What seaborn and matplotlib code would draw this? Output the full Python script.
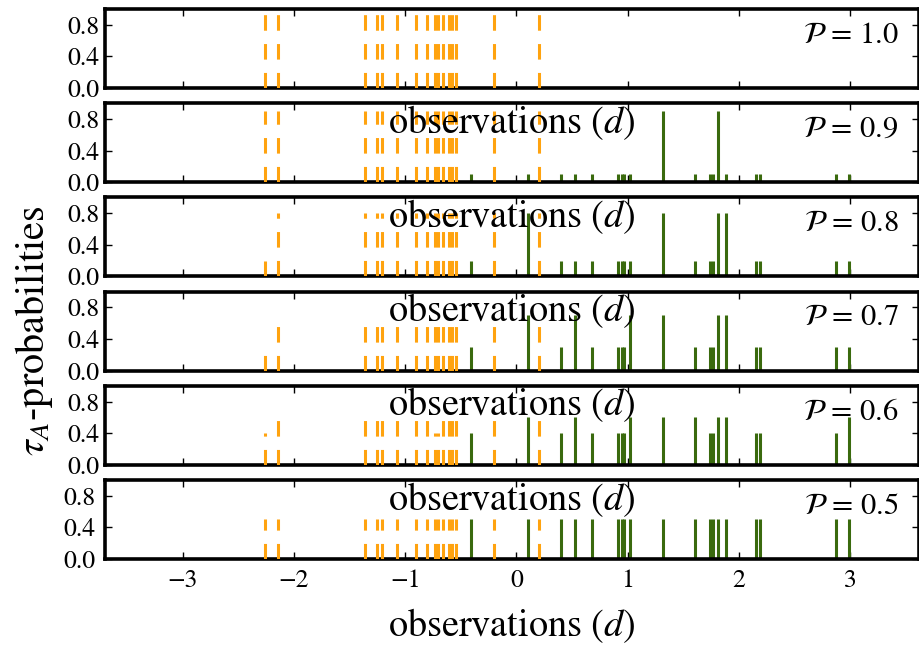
import numpy as np
import pandas as pd
import matplotlib
matplotlib.use("Agg")
import matplotlib.pyplot as plt
import seaborn as sns

# ---------------- data ----------------
P_values = [1.0, 0.9, 0.8, 0.7, 0.6, 0.5]
P_labels = ["1.0", "0.9", "0.8", "0.7", "0.6", "0.5"]

# observations of group A (orange, dashed) and group B (green, solid)
obs_A = [-2.259, -2.140, -1.365, -1.251, -1.206, -1.075, -0.900, -0.805,
         -0.735, -0.706, -0.661, -0.609, -0.580, -0.540, -0.204, 0.201]
obs_B = [-0.41, 0.10, 0.40, 0.53, 0.68, 0.91, 0.95, 0.97, 1.02, 1.32,
         1.61, 1.74, 1.77, 1.81, 1.88, 2.15, 2.19, 2.87, 2.99]

# tau_A probabilities of the A observations, one list per panel
tauA_A_10 = [1.0, 1.0, 1.0, 1.0, 1.0, 1.0, 1.0, 1.0, 1.0, 1.0, 1.0, 1.0, 1.0, 1.0, 1.0, 1.0]
tauA_A_09 = [0.9, 0.9, 0.9, 0.9, 0.9, 0.9, 0.9, 0.9, 0.9, 0.9, 0.9, 0.9, 0.9, 0.9, 0.9, 0.9]
tauA_A_08 = [0.2, 0.8, 0.8, 0.8, 0.8, 0.8, 0.8, 0.8, 0.8, 0.8, 0.8, 0.8, 0.8, 0.8, 0.8, 0.8]
tauA_A_07 = [0.3, 0.7, 0.7, 0.7, 0.7, 0.7, 0.7, 0.7, 0.7, 0.7, 0.7, 0.7, 0.7, 0.7, 0.7, 0.7]
tauA_A_06 = [0.4, 0.6, 0.6, 0.6, 0.6, 0.6, 0.6, 0.6, 0.4, 0.4, 0.6, 0.6, 0.6, 0.6, 0.6, 0.6]
tauA_A_05 = [0.5, 0.5, 0.5, 0.5, 0.5, 0.5, 0.5, 0.5, 0.5, 0.5, 0.5, 0.5, 0.5, 0.5, 0.5, 0.5]

# tau_A probabilities of the B observations, one list per panel
tauA_B_10 = [0.0, 0.0, 0.0, 0.0, 0.0, 0.0, 0.0, 0.0, 0.0, 0.0, 0.0, 0.0, 0.0, 0.0, 0.0, 0.0, 0.0, 0.0, 0.0]
tauA_B_09 = [0.1, 0.1, 0.1, 0.1, 0.1, 0.1, 0.1, 0.1, 0.1, 0.9, 0.1, 0.1, 0.1, 0.9, 0.1, 0.1, 0.1, 0.1, 0.1]
tauA_B_08 = [0.2, 0.8, 0.2, 0.2, 0.2, 0.2, 0.2, 0.2, 0.2, 0.8, 0.2, 0.2, 0.2, 0.8, 0.8, 0.2, 0.2, 0.2, 0.2]
tauA_B_07 = [0.3, 0.7, 0.3, 0.7, 0.3, 0.3, 0.3, 0.3, 0.7, 0.7, 0.3, 0.3, 0.3, 0.7, 0.7, 0.3, 0.3, 0.3, 0.3]
tauA_B_06 = [0.4, 0.6, 0.4, 0.6, 0.4, 0.4, 0.4, 0.4, 0.6, 0.6, 0.6, 0.4, 0.4, 0.6, 0.6, 0.4, 0.4, 0.4, 0.6]
tauA_B_05 = [0.5, 0.5, 0.5, 0.5, 0.5, 0.5, 0.5, 0.5, 0.5, 0.5, 0.5, 0.5, 0.5, 0.5, 0.5, 0.5, 0.5, 0.5, 0.5]

tauA_A = [tauA_A_10, tauA_A_09, tauA_A_08, tauA_A_07, tauA_A_06, tauA_A_05]
tauA_B = [tauA_B_10, tauA_B_09, tauA_B_08, tauA_B_07, tauA_B_06, tauA_B_05]

y_ticks = [0.0, 0.4, 0.8]
x_ticks = [-3, -2, -1, 0, 1, 2, 3]

# long-form table
rows = []
for lab, hA, hB in zip(P_labels, tauA_A, tauA_B):
    for x, h in zip(obs_A, hA):
        rows.append({"panel": lab, "x": x, "tau": h, "group": "A"})
    for x, h in zip(obs_B, hB):
        rows.append({"panel": lab, "x": x, "tau": h, "group": "B"})
df = pd.DataFrame(rows)

# ---------------- style ----------------
sns.set_style("ticks")
plt.rcParams["font.family"] = ["STIXGeneral", "DejaVu Serif"]
plt.rcParams["mathtext.fontset"] = "stix"
plt.rcParams["lines.scale_dashes"] = False
plt.rcParams["text.color"] = "black"
plt.rcParams["axes.labelcolor"] = "black"
plt.rcParams["xtick.color"] = "black"
plt.rcParams["ytick.color"] = "black"
plt.rcParams["axes.edgecolor"] = "black"

ORANGE = "#ffa30f"
GREEN = "#3a6a0e"


def draw(data, **kws):
    ax = plt.gca()
    a = data[data["group"] == "B"]
    ax.vlines(a["x"], 0, a["tau"], colors=GREEN, linewidth=2.2,
              linestyles="solid", zorder=2)
    b = data[data["group"] == "A"]
    ax.vlines(b["x"], 0, b["tau"], colors=ORANGE, linewidth=2.2,
              linestyles=[(0, (11.2, 9.6))], zorder=3)


g = sns.FacetGrid(df, row="panel", row_order=P_labels, sharex=True, sharey=True,
                  despine=False, height=1.075, aspect=8.5)
g.map_dataframe(draw)
fig = g.figure
fig.set_size_inches(9.2, 6.45)
fig.subplots_adjust(left=105 / 920, right=919 / 920, top=1 - 9 / 645,
                    bottom=1 - 559 / 645, hspace=0.192)
g.set_titles("")

axes = g.axes.flatten()
for i, ax in enumerate(axes):
    ax.set_zorder(10 - i)
    ax.set_xlim(-3.7, 3.62)
    ax.set_ylim(0, 1.0)
    ax.set_yticks(y_ticks)
    ax.set_yticklabels([f"{v:.1f}" for v in y_ticks])
    ax.set_xticks(x_ticks)
    ax.tick_params(direction="in", top=True, right=True, length=5, width=1,
                   labelsize=18.5, pad=4, color="black", labelcolor="black")
    for sp in ax.spines.values():
        sp.set_linewidth(2.6)
        sp.set_color("black")
    ax.set_ylabel("")
    ax.set_xlabel(r"observations $(d)$", fontsize=27.5, color="black")
    ax.xaxis.label.set_visible(True)
    ax.text(0.975, 0.66, r"$\mathcal{P}$ = " + P_labels[i], transform=ax.transAxes,
            ha="right", va="center", fontsize=22, color="black")
    if i < len(axes) - 1:
        ax.tick_params(labelbottom=False)
        ax.xaxis.set_label_coords(0.5, -0.19)
    else:
        for lbl in ax.get_xticklabels():
            lbl.set_visible(True)
        ax.tick_params(labelbottom=True, pad=7)
        ax.set_xticklabels([f"{t}" if t >= 0 else "\u2212" + str(-t) for t in x_ticks])
        ax.xaxis.set_label_coords(0.5, -0.6)

axes[3].set_ylabel(r"$\tau_A$-probabilities", fontsize=29, color="black")
axes[3].yaxis.label.set_visible(True)
axes[3].yaxis.set_label_coords(-0.062, 0.5)

fig.savefig("out.png", dpi=100, facecolor="white")
